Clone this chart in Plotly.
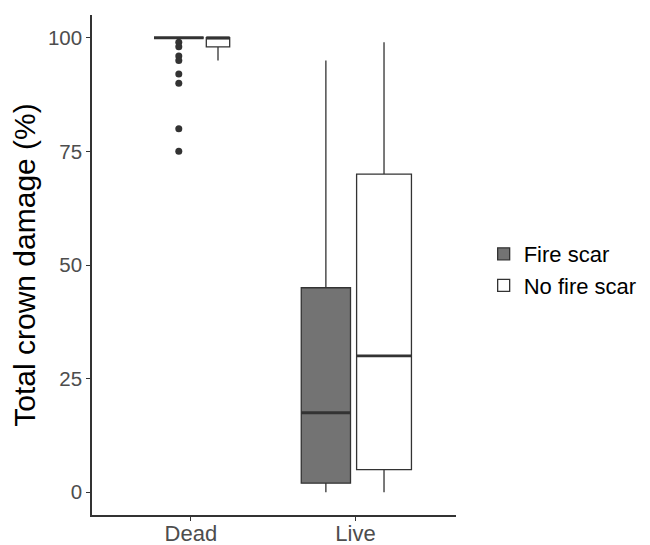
import plotly.graph_objects as go

# ---- data ----
categories = ["Dead", "Live"]
series = ["Fire scar", "No fire scar"]

fire_q1 = [100, 2]
fire_median = [100, 17.5]
fire_q3 = [100, 45]
fire_lower = [100, 0]
fire_upper = [100, 95]

nofire_q1 = [98, 5]
nofire_median = [100, 30]
nofire_q3 = [100, 70]
nofire_lower = [95, 0]
nofire_upper = [100, 99]

fire_dead_outliers = [99, 98, 96, 95, 92, 90, 80, 75]

# ---- layout helpers (positions / widths, not data) ----
cat_pos = {"Dead": 1, "Live": 2}
fire_offset = [-0.073, -0.180]
fire_width = [0.301, 0.299]
nofire_offset = [0.165, 0.173]
nofire_width = [0.142, 0.333]

LINE = "#333333"
FIRE_FILL = "#737373"
FONT = "Liberation Sans, Arial, sans-serif"

fig = go.Figure()

def add_series(name, q1, med, q3, lo, hi, offs, widths, fill):
    for i, cat in enumerate(categories):
        x = cat_pos[cat] + offs[i]
        fig.add_trace(go.Box(
            x=[x], q1=[q1[i]], median=[med[i]], q3=[q3[i]],
            lowerfence=[lo[i]], upperfence=[hi[i]],
            width=widths[i], name=name, legendgroup=name,
            showlegend=(i == 0), fillcolor=fill,
            line=dict(color=LINE, width=1.3), whiskerwidth=0,
            boxpoints=False, hoverinfo="skip",
        ))
        # thicker median line, as in ggplot
        fig.add_trace(go.Scatter(
            x=[x - widths[i] / 2, x + widths[i] / 2], y=[med[i], med[i]],
            mode="lines", line=dict(color=LINE, width=2.8),
            showlegend=False, hoverinfo="skip",
        ))

add_series("Fire scar", fire_q1, fire_median, fire_q3, fire_lower, fire_upper,
           fire_offset, fire_width, FIRE_FILL)
add_series("No fire scar", nofire_q1, nofire_median, nofire_q3, nofire_lower, nofire_upper,
           nofire_offset, nofire_width, "white")

fig.add_trace(go.Scatter(
    x=[cat_pos["Dead"] + fire_offset[0]] * len(fire_dead_outliers),
    y=fire_dead_outliers, mode="markers",
    marker=dict(color=LINE, size=7), showlegend=False, hoverinfo="skip",
))

# page body has an 8px default margin, so the figure is sized/shifted to compensate
fig.update_layout(
    width=642, height=537,
    margin=dict(l=84, r=194, t=7, b=30, autoexpand=False),
    paper_bgcolor="white", plot_bgcolor="white",
    boxmode="overlay",
    font=dict(family=FONT, color="black"),
    legend=dict(
        x=1.076, xanchor="left", y=0.49, yanchor="middle",
        font=dict(size=22, color="black", family=FONT),
        bgcolor="rgba(0,0,0,0)", borderwidth=0, tracegroupgap=0,
        itemwidth=30,
    ),
    xaxis=dict(
        range=[0.4, 2.61], tickvals=[1, 2], ticktext=categories,
        showline=True, linecolor=LINE, linewidth=1.5,
        ticks="outside", ticklen=4, tickcolor=LINE, tickwidth=1.2,
        tickfont=dict(size=22, color="#4d4d4d", family=FONT),
        showgrid=False, zeroline=False, automargin=False,
        ticklabelstandoff=-6,
    ),
    yaxis=dict(
        range=[-5, 105], tickvals=[0, 25, 50, 75, 100],
        showline=True, linecolor=LINE, linewidth=1.5,
        ticks="outside", ticklen=4, tickcolor=LINE, tickwidth=1.2,
        tickfont=dict(size=20.5, color="#4d4d4d", family=FONT),
        showgrid=False, zeroline=False, automargin=False,
        title=dict(text="Total crown damage (%)", font=dict(size=30, color="black", family=FONT),
                   standoff=6),
    ),
)

fig.write_html("out.html")
